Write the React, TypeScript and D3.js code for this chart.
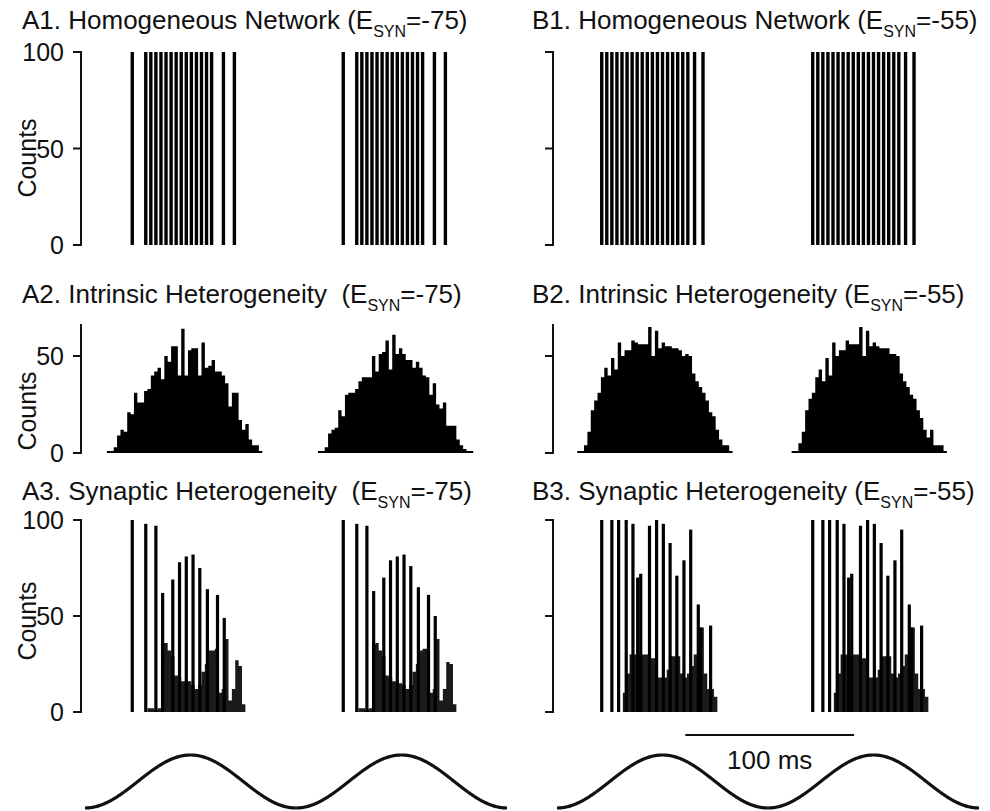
import React from "react";
import * as d3 from "d3";

const W = 990;
const H = 811;
const PERIOD_MS = 125;
const T_MAX = 250;

// ---------- A1 / B1 : homogeneous network (counts per 2 ms bin) ----------
const a1Times1 = [28, 36, 39, 42, 45, 48, 51, 54, 57, 60, 63, 66, 69, 72, 75, 82, 88.5];
const a1Times2 = [153, 161, 164, 167, 170, 173, 176, 179, 182, 185, 188, 191, 194, 197, 200, 207, 213.5];
const a1Counts = [100, 100, 100, 100, 100, 100, 100, 100, 100, 100, 100, 100, 100, 100, 100, 100, 100];

const b1Times1 = [26.5, 29.5, 32.5, 35.5, 38.5, 41.5, 44.5, 47.5, 50.5, 53.5, 56.5, 59.5, 62.5, 65.5, 68.5, 71.5, 74.5, 77.5, 81.5, 86.5];
const b1Times2 = [151.5, 154.5, 157.5, 160.5, 163.5, 166.5, 169.5, 172.5, 175.5, 178.5, 181.5, 184.5, 187.5, 190.5, 193.5, 196.5, 199.5, 202.5, 206.5, 211.5];
const b1Counts = [100, 100, 100, 100, 100, 100, 100, 100, 100, 100, 100, 100, 100, 100, 100, 100, 100, 100, 100, 100];

// ---------- A2 / B2 : intrinsic heterogeneity (2 ms bins) ----------
const a2Start1 = 13;
const a2Counts1 = [1, 1, 3, 9, 12, 11, 21, 20, 31, 26, 26, 32, 33, 40, 42, 44, 38, 50, 47, 55, 55, 40, 64, 40, 53, 54, 54, 40, 57, 44, 45, 48, 42, 42, 40, 36, 24, 31, 31, 17, 12, 15, 7, 4, 4, 1];
const a2Start2 = 138;
const a2Counts2 = [1, 1, 3, 10, 12, 13, 22, 19, 30, 31, 31, 33, 37, 39, 39, 39, 50, 42, 51, 52, 58, 43, 61, 51, 54, 51, 48, 48, 44, 47, 44, 40, 39, 30, 36, 25, 23, 26, 14, 14, 14, 7, 4, 2, 1, 1];

const b2Start1 = 12;
const b2Counts1 = [1, 1, 4, 11, 22, 27, 31, 39, 44, 40, 49, 43, 57, 50, 53, 53, 58, 57, 56, 56, 56, 65, 50, 63, 54, 57, 55, 55, 54, 54, 53, 50, 51, 50, 41, 37, 34, 31, 27, 21, 19, 12, 7, 4, 4, 1];
const b2Start2 = 139;
const b2Counts2 = [1, 1, 5, 11, 22, 28, 31, 39, 43, 37, 49, 40, 57, 50, 53, 53, 58, 56, 56, 56, 65, 50, 63, 55, 57, 55, 54, 54, 54, 51, 51, 50, 41, 37, 34, 30, 28, 22, 18, 12, 8, 12, 4, 4, 4, 1];

// ---------- A3 / B3 : synaptic heterogeneity ----------
const a3SpikeTimes1 = [28, 36, 42, 46, 52, 56, 60, 64, 68, 72.5, 78.5, 82.5];
const a3SpikeCounts1 = [100, 98, 97, 62, 69, 78, 81, 82, 75, 64, 61, 49];
const a3SpikeTimes2 = [153, 161, 167, 171, 177, 181, 185, 189, 193, 197.5, 203.5, 207.5];
const a3SpikeCounts2 = [100, 98, 97, 63, 70, 79, 81, 82, 76, 65, 61, 50];
const a3FillStart1 = 37;
const a3Fill1 = [2, 2, 1, 2, 36, 36, 32, 29, 19, 18, 16, 16, 16, 14, 12, 14, 21, 25, 32, 32, 33, 10, 12, 38, 6, 12, 27, 24, 4];
const a3FillStart2 = 162;
const a3Fill2 = [2, 2, 1, 2, 35, 36, 32, 29, 19, 18, 16, 16, 15, 14, 12, 14, 21, 25, 32, 33, 33, 10, 12, 38, 6, 12, 26, 25, 4];

const b3SpikeTimes1 = [26.5, 32.5, 36.5, 41, 45, 47.8, 49.6, 54.8, 59, 63, 67, 71, 75.2, 79.2, 83.7, 85.1, 91];
const b3SpikeCounts1 = [100, 100, 100, 100, 98, 70, 72, 97, 100, 98, 88, 71, 79, 95, 56, 44, 45];
const b3SpikeTimes2 = [151.5, 157.5, 161.5, 166, 170, 172.8, 174.6, 179.8, 184, 188, 192, 196, 200.2, 204.2, 208.7, 210.1, 216];
const b3SpikeCounts2 = [100, 100, 100, 100, 98, 70, 72, 97, 100, 98, 88, 71, 79, 95, 56, 44, 45];
const b3FillStart1 = 39;
const b3Fill1 = [10, 20, 30, 30, 30, 30, 30, 30, 28, 28, 18, 18, 18, 22, 29, 29, 29, 20, 18, 20, 24, 30, 44, 44, 20, 12, 12, 8];
const b3FillStart2 = 164;
const b3Fill2 = [10, 20, 30, 30, 30, 30, 30, 30, 28, 28, 18, 18, 18, 22, 29, 29, 29, 20, 18, 20, 24, 30, 44, 44, 20, 12, 12, 8];

// ---------- text ----------
const titlesA = [
  { pre: "A1. Homogeneous Network (E", post: "=-75)" },
  { pre: "A2. Intrinsic Heterogeneity  (E", post: "=-75)" },
  { pre: "A3. Synaptic Heterogeneity  (E", post: "=-75)" },
];
const titlesB = [
  { pre: "B1. Homogeneous Network (E", post: "=-55)" },
  { pre: "B2. Intrinsic Heterogeneity (E", post: "=-55)" },
  { pre: "B3. Synaptic Heterogeneity (E", post: "=-55)" },
];
const ticks1 = [0, 50, 100];
const ticks2 = [0, 50];
const ticks3 = [0, 50, 100];
const scaleBarMs = 100;
const scaleBarStartMs = 76;

// ---------- layout ----------
const FONT = "'Liberation Sans', Arial, Helvetica, sans-serif";
const INK = "#111";
const xA = d3.scaleLinear().domain([0, T_MAX]).range([85, 507]);
const xB = d3.scaleLinear().domain([0, T_MAX]).range([557, 979]);
const y1 = d3.scaleLinear().domain([0, 100]).range([245, 52]);
const y2 = d3.scaleLinear().domain([0, 50]).range([453, 356]);
const y3 = d3.scaleLinear().domain([0, 100]).range([712, 520]);
const ySine = d3.scaleLinear().domain([-1, 1]).range([808, 755]);
const axisXA = 81;
const axisXB = 553;
const titleY = [29, 303, 500];
const BAR_MS = 2;
const SPIKE_MS = 1.9;
const BIN_MS = 2;

type Sc = d3.ScaleLinear<number, number>;

function Bars({ times, counts, xs, ys, w, fill }: { times: number[]; counts: number[]; xs: Sc; ys: Sc; w: number; fill: string }) {
  const pw = xs(w) - xs(0);
  return (
    <g>
      {times.map((t, i) => (
        <rect key={i} x={xs(t) - pw / 2} width={pw} y={ys(counts[i])} height={ys(0) - ys(counts[i])} fill={fill} />
      ))}
    </g>
  );
}

function StepHist({ start, counts, xs, ys, fill }: { start: number; counts: number[]; xs: Sc; ys: Sc; fill: string }) {
  const pts: [number, number][] = counts.map((c, i) => [start + i * BIN_MS, c]);
  pts.push([start + counts.length * BIN_MS, counts[counts.length - 1]]);
  const area = d3
    .area<[number, number]>()
    .x((d) => xs(d[0]))
    .y0(ys(0))
    .y1((d) => ys(d[1]))
    .curve(d3.curveStepAfter);
  return <path d={area(pts) || ""} fill={fill} />;
}

function Axis({ x, ys, ticks, top, labels }: { x: number; ys: Sc; ticks: number[]; top: number; labels: boolean }) {
  return (
    <g>
      <line x1={x} x2={x} y1={ys(top) - 1} y2={ys(0) + 1} stroke={INK} strokeWidth={2} />
      {ticks.map((t) => (
        <g key={t}>
          <line x1={x - 8} x2={x} y1={ys(t)} y2={ys(t)} stroke={INK} strokeWidth={2} />
          {labels && (
            <text x={x - 17} y={ys(t)} dy="0.36em" textAnchor="end" fontSize={25} fontFamily={FONT} fill={INK}>
              {t}
            </text>
          )}
        </g>
      ))}
    </g>
  );
}

function Title({ x, y, pre, post }: { x: number; y: number; pre: string; post: string }) {
  return (
    <text x={x} y={y} fontSize={26} fontFamily={FONT} fill={INK} style={{ whiteSpace: "pre" }}>
      {pre}
      <tspan fontSize={16} dy={8}>
        SYN
      </tspan>
      <tspan dy={-8}>{post}</tspan>
    </text>
  );
}

function CountsLabel({ cy }: { cy: number }) {
  return (
    <text transform={`translate(36,${cy}) rotate(-90)`} textAnchor="middle" fontSize={25} fontFamily={FONT} fill={INK}>
      Counts
    </text>
  );
}

function Sine({ xs }: { xs: Sc }) {
  const ts = d3.range(0, T_MAX + 0.25, 0.5);
  const line = d3
    .line<number>()
    .x((t) => xs(t))
    .y((t) => ySine(-Math.cos((2 * Math.PI * t) / PERIOD_MS)));
  return <path d={line(ts) || ""} fill="none" stroke={INK} strokeWidth={3.2} />;
}

export default function App() {
  const black = "#000";
  const dark = "#1c1a1a";
  return (
    <svg width={W} height={H} style={{ position: "absolute", left: 0, top: 0, background: "#fff" }}>
      <rect width={W} height={H} fill="#fff" />
      {titlesA.map((t, i) => (
        <Title key={"a" + i} x={22} y={titleY[i]} pre={t.pre} post={t.post} />
      ))}
      {titlesB.map((t, i) => (
        <Title key={"b" + i} x={532} y={titleY[i]} pre={t.pre} post={t.post} />
      ))}

      {/* Row 1 */}
      <Axis x={axisXA} ys={y1} ticks={ticks1} top={100} labels />
      <Axis x={axisXB} ys={y1} ticks={ticks1} top={100} labels={false} />
      <CountsLabel cy={158} />
      <Bars times={a1Times1} counts={a1Counts} xs={xA} ys={y1} w={BAR_MS} fill={black} />
      <Bars times={a1Times2} counts={a1Counts} xs={xA} ys={y1} w={BAR_MS} fill={black} />
      <Bars times={b1Times1} counts={b1Counts} xs={xB} ys={y1} w={BAR_MS} fill={black} />
      <Bars times={b1Times2} counts={b1Counts} xs={xB} ys={y1} w={BAR_MS} fill={black} />

      {/* Row 2 */}
      <Axis x={axisXA} ys={y2} ticks={ticks2} top={66} labels />
      <Axis x={axisXB} ys={y2} ticks={ticks2} top={66} labels={false} />
      <CountsLabel cy={411} />
      <StepHist start={a2Start1} counts={a2Counts1} xs={xA} ys={y2} fill={black} />
      <StepHist start={a2Start2} counts={a2Counts2} xs={xA} ys={y2} fill={black} />
      <StepHist start={b2Start1} counts={b2Counts1} xs={xB} ys={y2} fill={black} />
      <StepHist start={b2Start2} counts={b2Counts2} xs={xB} ys={y2} fill={black} />

      {/* Row 3 */}
      <Axis x={axisXA} ys={y3} ticks={ticks3} top={100} labels />
      <Axis x={axisXB} ys={y3} ticks={ticks3} top={100} labels={false} />
      <CountsLabel cy={621} />
      <StepHist start={a3FillStart1} counts={a3Fill1} xs={xA} ys={y3} fill={dark} />
      <StepHist start={a3FillStart2} counts={a3Fill2} xs={xA} ys={y3} fill={dark} />
      <Bars times={a3SpikeTimes1} counts={a3SpikeCounts1} xs={xA} ys={y3} w={SPIKE_MS} fill={black} />
      <Bars times={a3SpikeTimes2} counts={a3SpikeCounts2} xs={xA} ys={y3} w={SPIKE_MS} fill={black} />
      <StepHist start={b3FillStart1} counts={b3Fill1} xs={xB} ys={y3} fill={dark} />
      <StepHist start={b3FillStart2} counts={b3Fill2} xs={xB} ys={y3} fill={dark} />
      <Bars times={b3SpikeTimes1} counts={b3SpikeCounts1} xs={xB} ys={y3} w={SPIKE_MS} fill={black} />
      <Bars times={b3SpikeTimes2} counts={b3SpikeCounts2} xs={xB} ys={y3} w={SPIKE_MS} fill={black} />

      {/* scale bar */}
      <line x1={xB(scaleBarStartMs)} x2={xB(scaleBarStartMs + scaleBarMs)} y1={735} y2={735} stroke={INK} strokeWidth={2} />
      <text x={xB(scaleBarStartMs + scaleBarMs / 2)} y={769} textAnchor="middle" fontSize={26} fontFamily={FONT} fill={INK}>
        100 ms
      </text>

      {/* theta oscillation */}
      <Sine xs={xA} />
      <Sine xs={xB} />
    </svg>
  );
}
